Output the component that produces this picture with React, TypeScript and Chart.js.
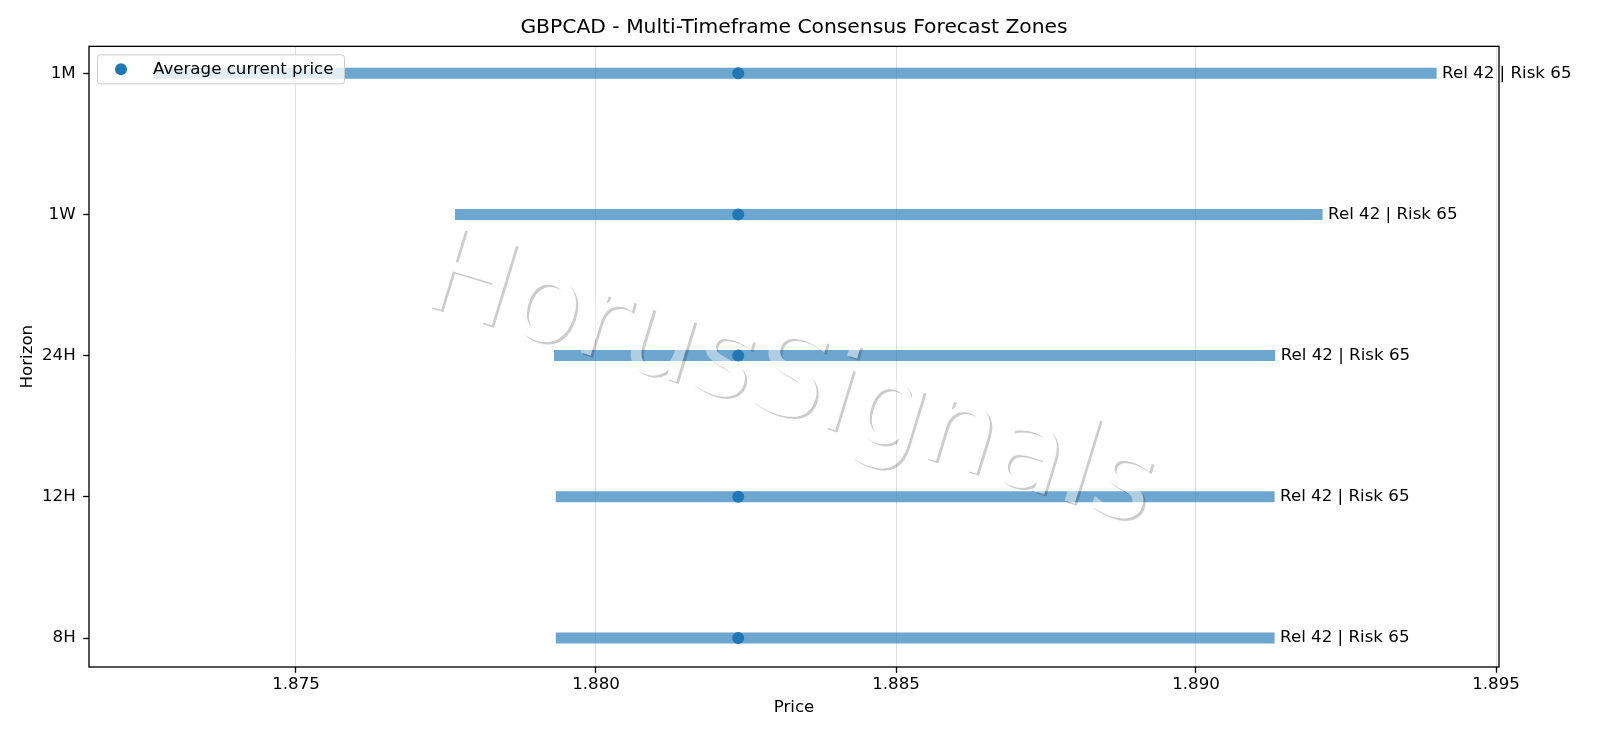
import { useEffect, useRef } from "react";
import { Chart, registerables } from "chart.js";
import type { Plugin } from "chart.js";

Chart.register(...registerables);

// horizons from bottom (index 0) to top
const horizons = ["8H", "12H", "24H", "1W", "1M"];
const zoneLow = [1.87933, 1.87933, 1.8793, 1.87765, 1.87262];
const zoneHigh = [1.89131, 1.89131, 1.89132, 1.89211, 1.89401];
const avgPrice = [1.88237, 1.88237, 1.88237, 1.88237, 1.88237];
const zoneNotes = [
  "Rel 42 | Risk 65",
  "Rel 42 | Risk 65",
  "Rel 42 | Risk 65",
  "Rel 42 | Risk 65",
  "Rel 42 | Risk 65",
];
const priceTicks = [1.875, 1.88, 1.885, 1.89, 1.895];

const chartTitle = "GBPCAD - Multi-Timeframe Consensus Forecast Zones";
const legendLabel = "Average current price";
const watermark = "HorusSignals";

const BLUE = "#1f77b4";
const ZONE = "rgba(31, 119, 180, 0.65)";
const FONT = "'DejaVu Sans', sans-serif";
const FS = 16.67;

const notesPlugin: Plugin = {
  id: "zoneNotes",
  afterDatasetsDraw(chart) {
    const { ctx } = chart;
    const xs = chart.scales.x;
    const ys = chart.scales.y;
    ctx.save();
    ctx.font = `${FS}px ${FONT}`;
    ctx.fillStyle = "#000";
    ctx.textAlign = "left";
    ctx.textBaseline = "middle";
    zoneNotes.forEach((t, i) => {
      ctx.fillText(t, xs.getPixelForValue(zoneHigh[i]) + 5.5, ys.getPixelForValue(i));
    });
    ctx.restore();
  },
};

const watermarkPlugin: Plugin = {
  id: "watermark",
  afterDatasetsDraw(chart) {
    const { ctx, chartArea: a } = chart;
    const dpr = chart.currentDevicePixelRatio || 1;
    const off = document.createElement("canvas");
    off.width = chart.width * dpr;
    off.height = chart.height * dpr;
    const o = off.getContext("2d");
    if (!o) return;
    o.scale(dpr, dpr);
    const cx = (a.left + a.right) / 2 - 13;
    const cy = (a.top + a.bottom) / 2 + 57;
    const put = (dx: number, dy: number, style: string) => {
      o.save();
      o.translate(cx + dx, cy + dy);
      o.rotate((17 * Math.PI) / 180);
      o.font = `116px ${FONT}`;
      o.textAlign = "center";
      o.textBaseline = "alphabetic";
      o.fillStyle = style;
      o.fillText(watermark, 0, 0);
      o.restore();
    };
    put(2.3, 2.3, "rgba(0,0,0,0.2)");
    o.globalCompositeOperation = "destination-out";
    put(0, 0, "#000");
    o.globalCompositeOperation = "source-over";
    put(0, 0, "rgba(255,255,255,0.45)");
    ctx.save();
    ctx.drawImage(off, 0, 0, chart.width, chart.height);
    ctx.restore();
  },
};

const framePlugin: Plugin = {
  id: "frameLegend",
  afterDraw(chart) {
    const { ctx, chartArea: a } = chart;
    ctx.save();
    ctx.strokeStyle = "#000";
    ctx.lineWidth = 1.33;
    ctx.strokeRect(a.left, a.top, a.right - a.left, a.bottom - a.top);

    // legend box
    ctx.beginPath();
    ctx.roundRect(a.left + 8.5, a.top + 8.5, 247, 29, 3);
    ctx.fillStyle = "rgba(255,255,255,0.8)";
    ctx.fill();
    ctx.strokeStyle = "#cccccc";
    ctx.lineWidth = 1;
    ctx.stroke();
    ctx.beginPath();
    ctx.arc(a.left + 32, a.top + 23, 6, 0, Math.PI * 2);
    ctx.fillStyle = BLUE;
    ctx.fill();
    ctx.font = `${FS}px ${FONT}`;
    ctx.fillStyle = "#000";
    ctx.textAlign = "left";
    ctx.textBaseline = "middle";
    ctx.fillText(legendLabel, a.left + 64, a.top + 23.5);
    ctx.restore();
  },
};

const App = () => {
  const canvasRef = useRef<HTMLCanvasElement>(null);

  useEffect(() => {
    document.body.style.margin = "0";
    if (!canvasRef.current) return;
    const ctx = canvasRef.current.getContext("2d");
    if (!ctx) return;

    Chart.defaults.font.family = FONT;
    Chart.defaults.font.size = FS;
    Chart.defaults.color = "#000";

    const zoneSets = horizons.map((h, i) => ({
      type: "line" as const,
      label: h,
      data: [
        { x: zoneLow[i], y: i },
        { x: zoneHigh[i], y: i },
      ],
      showLine: true,
      borderColor: ZONE,
      borderWidth: 11,
      borderCapStyle: "butt" as const,
      pointRadius: 0,
      order: 2,
    }));

    const myChart = new Chart(ctx, {
      type: "scatter",
      data: {
        datasets: [
          {
            label: legendLabel,
            data: avgPrice.map((p, i) => ({ x: p, y: i })),
            backgroundColor: BLUE,
            borderWidth: 0,
            pointRadius: 6,
            order: 0,
          },
          ...zoneSets,
        ] as any,
      },
      options: {
        animation: false,
        responsive: true,
        maintainAspectRatio: false,
        layout: { padding: { left: 0, right: 101, top: 0, bottom: 0 } },
        plugins: {
          legend: { display: false },
          tooltip: { enabled: false },
          title: {
            display: true,
            text: chartTitle,
            fullSize: false,
            color: "#000",
            font: { size: 20.3, weight: "normal" },
            padding: { top: 16, bottom: 6 },
          },
        },
        scales: {
          x: {
            type: "linear",
            min: 1.87155,
            max: 1.89505,
            afterBuildTicks: (s: any) => {
              s.ticks = priceTicks.map((v) => ({ value: v }));
            },
            afterFit: (s: any) => {
              s.height = 71;
            },
            ticks: {
              callback: (v: any) => Number(v).toFixed(3),
              padding: 2.2,
              maxRotation: 0,
              autoSkip: false,
              color: "#000",
            },
            grid: {
              color: "#e0e0e0",
              lineWidth: 1,
              tickColor: "#000",
              tickLength: 5.83,
              tickWidth: 1.33,
            },
            border: { display: false },
            title: {
              display: true,
              text: "Price",
              color: "#000",
              padding: { top: 0, bottom: 20.5 },
            },
          },
          y: {
            type: "linear",
            min: -0.205,
            max: 4.19,
            afterBuildTicks: (s: any) => {
              s.ticks = horizons.map((_, i) => ({ value: i }));
            },
            afterFit: (s: any) => {
              s.width = 89;
            },
            ticks: {
              callback: (v: any) => horizons[Number(v)] ?? "",
              padding: 7.5,
              autoSkip: false,
              color: "#000",
            },
            grid: {
              drawOnChartArea: false,
              tickColor: "#000",
              tickLength: 5.83,
              tickWidth: 1.33,
            },
            border: { display: false },
            title: {
              display: true,
              text: "Horizon",
              color: "#000",
              padding: { top: 18, bottom: 0 },
            },
          },
        },
      },
      plugins: [notesPlugin, watermarkPlugin, framePlugin],
    });

    return () => myChart.destroy();
  }, []);

  return (
    <div style={{ position: "relative", width: "1600px", height: "738px", background: "#fff" }}>
      <canvas ref={canvasRef}></canvas>
    </div>
  );
};

export default App;
